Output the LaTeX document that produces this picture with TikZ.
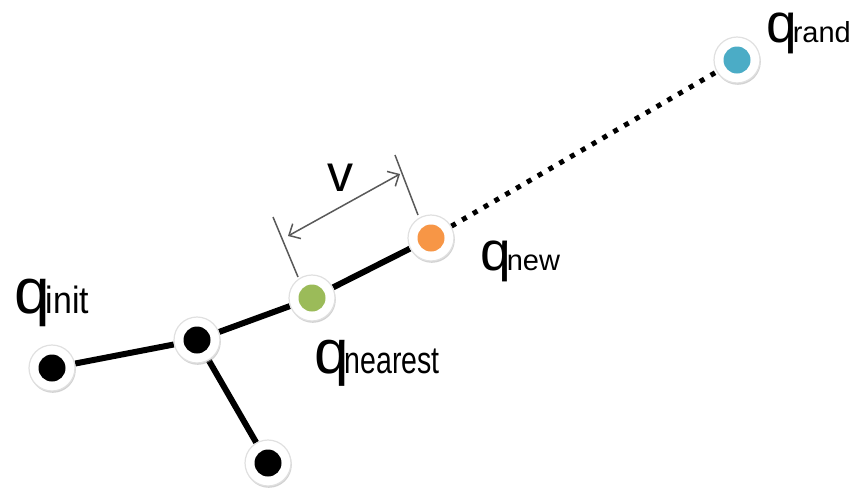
\documentclass[tikz,border=0pt]{standalone}
\usepackage{fontspec}
\usepackage{graphicx}
\setmainfont{Liberation Sans}
\usetikzlibrary{arrows.meta,shadows}
\pgfdeclarelayer{background}
\pgfsetlayers{background,main}
\definecolor{qgreen}{HTML}{9BBB59}
\definecolor{qorange}{HTML}{F79646}
\definecolor{qblue}{HTML}{4BACC6}
\newcommand{\qlabel}[4]{{\fontsize{#1}{#1}\selectfont q\kern-4pt\scalebox{#3}[1]{\fontsize{#2}{#2}\selectfont #4}}}
\begin{document}
\begin{tikzpicture}[x=1pt,y=-1pt,
  vtx/.style={circle, minimum size=46pt, inner sep=0pt, fill=white, draw=black!12, line width=1.2pt,
    drop shadow={shadow xshift=0.8pt, shadow yshift=-1.8pt, fill=black!35, opacity=0.5},
    path picture={\fill[#1] (path picture bounding box.center) circle (13.5pt);}},
  tree/.style={line width=6pt, draw=black},
  rope/.style={line width=5pt, draw=black, dash pattern=on 5pt off 7.5pt},
  tick/.style={draw=black!65, line width=1.5pt},
  dim/.style={draw=black!65, line width=1.5pt, {Straight Barb[length=9pt,width=17pt]}-{Straight Barb[length=9pt,width=17pt]}},
  lab/.style={anchor=base west, inner sep=0pt, text=black}
]
\useasboundingbox (0,0) rectangle (866,496);

% vertices
\node[vtx=black]   (init) at (52,368) {};
\node[vtx=black]   (j)    at (197,340) {};
\node[vtx=black]   (leaf) at (268,463) {};
\node[vtx=qgreen]  (near) at (312,298) {};
\node[vtx=qorange] (new)  at (431,238) {};
\node[vtx=qblue]   (rand) at (737,60) {};

% edges
\begin{pgfonlayer}{background}
\draw[tree] (init) -- (j);
\draw[tree] (j) -- (leaf);
\draw[tree] (j) -- (near);
\draw[tree] (near) -- (new);
\draw[rope] (new) -- (rand);
\end{pgfonlayer}

% step size marker
\coordinate (t1a) at (273,217);
\coordinate (t1b) at (298,277);
\coordinate (t2a) at (395,155);
\coordinate (t2b) at (418,215);
\coordinate (va) at (288,236);
\coordinate (vb) at (400,174);
\draw[tick] (t1a) -- (t1b);
\draw[tick] (t2a) -- (t2b);
\draw[dim] (va) -- (vb);
\node (vl) at (340,178) {\fontsize{52}{52}\selectfont v};

% labels
\node[lab] (linit) at (14,313)  {\qlabel{64}{38}{0.89}{init}};
\node[lab] (lnear) at (314,373) {\qlabel{62}{38}{0.75}{nearest}};
\node[lab] (lnew)  at (480,270) {\qlabel{55}{29}{1}{new}};
\node[lab] (lrand) at (766,42)  {\qlabel{55}{29}{1}{rand}};
\end{tikzpicture}
\end{document}
